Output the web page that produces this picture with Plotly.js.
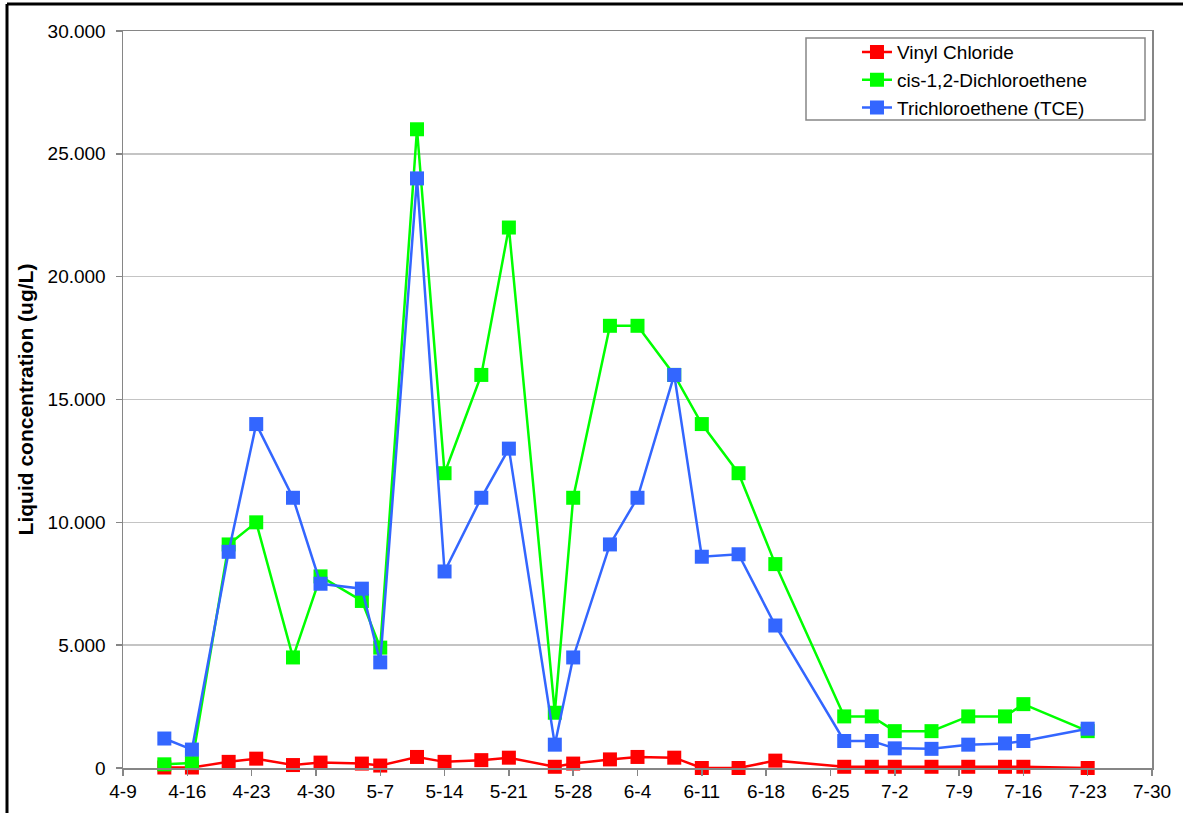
<!DOCTYPE html>
<html>
<head>
<meta charset="utf-8">
<script src="https://cdn.plot.ly/plotly-3.0.1.min.js"></script>
<style>
  body { margin: 0; background: #fff; }
  #plotArea { width: 1193px; height: 813px; }
</style>
</head>
<body>
<div id="plotArea"></div>
<script>
// Sample dates (month-day, some taken around midday)
var sampleDates = [
  "2010-04-13 12:00", "2010-04-16 12:00", "2010-04-20 12:00", "2010-04-23 12:00",
  "2010-04-27 12:00", "2010-04-30 12:00", "2010-05-05", "2010-05-07",
  "2010-05-11", "2010-05-14", "2010-05-18", "2010-05-21",
  "2010-05-26", "2010-05-28", "2010-06-01", "2010-06-04",
  "2010-06-08", "2010-06-11", "2010-06-15", "2010-06-19",
  "2010-06-26 12:00", "2010-06-29 12:00", "2010-07-02", "2010-07-06",
  "2010-07-10", "2010-07-14", "2010-07-16", "2010-07-23",
];

// Liquid concentration (ug/L)
var vinylChloride = [
  20, 20, 250, 380, 120, 220, 180, 100,
  450, 250, 320, 420,
  50, 180, 350, 450,
  420, 0, 0, 300,
  50, 50, 50, 50,
  50, 50, 50, 0,
];
var cisDCE = [
  150, 200, 9100, 10000, 4500, 7800, 6800, 4900,
  26000, 12000, 16000, 22000,
  2250, 11000, 18000, 18000,
  16000, 14000, 12000, 8300,
  2100, 2100, 1500, 1500,
  2100, 2100, 2600, 1500,
];
var tce = [
  1200, 750, 8800, 14000, 11000, 7500, 7300, 4300,
  24000, 8000, 11000, 13000,
  950, 4500, 9100, 11000,
  16000, 8600, 8700, 5800,
  1100, 1100, 800, 780,
  950, 1000, 1100, 1600,
];

var seriesNames = ["Vinyl Chloride", "cis-1,2-Dichloroethene", "Trichloroethene (TCE)"];
var seriesColors = ["#ff0000", "#00ff00", "#3366ff"];
var seriesValues = [vinylChloride, cisDCE, tce];

var data = [];
for (var i = 0; i < seriesNames.length; i++) {
  data.push({
    x: sampleDates,
    y: seriesValues[i],
    name: seriesNames[i],
    type: "scatter",
    mode: "lines+markers",
    cliponaxis: false,
    line: { color: seriesColors[i], width: 2.5 },
    marker: { symbol: "square", size: 14, color: seriesColors[i] },
  });
}

var font = "Liberation Sans, Arial, sans-serif";

var layout = {
  width: 1193,
  height: 813,
  margin: { l: 123, r: 41, t: 31, b: 45 },
  paper_bgcolor: "#fff",
  plot_bgcolor: "#fff",
  separators: ",.",
  font: { family: font, size: 19, color: "#000" },
  showlegend: true,
  legend: {
    x: 0.7133,
    y: 0.997,
    xanchor: "left",
    yanchor: "top",
    bgcolor: "rgba(0,0,0,0)",
    borderwidth: 0,
    font: { family: font, size: 19, color: "#000" },
  },
  xaxis: {
    type: "date",
    range: ["2010-04-09", "2010-07-30"],
    tick0: "2010-04-09",
    dtick: 7 * 86400000,
    tickformat: "%-m-%-d",
    showgrid: false,
    showline: true,
    mirror: true,
    linecolor: "#868686",
    linewidth: 1.5,
    ticks: "outside",
    ticklen: 6,
    tickcolor: "#868686",
    tickwidth: 1.5,
    zeroline: false,
    tickfont: { family: font, size: 19 },
  },
  yaxis: {
    range: [0, 30000],
    dtick: 5000,
    tickformat: ",d",
    showgrid: true,
    gridcolor: "#c4c4c4",
    gridwidth: 1.5,
    showline: true,
    mirror: true,
    linecolor: "#868686",
    linewidth: 1.5,
    ticks: "outside",
    ticklen: 6,
    tickcolor: "#868686",
    tickwidth: 1.5,
    ticklabelstandoff: 6,
    zeroline: false,
    tickfont: { family: font, size: 19 },
    title: {
      text: "<b>Liquid concentration (ug/L)</b>",
      font: { family: font, size: 21 },
      standoff: 8,
    },
  },
  shapes: [
    // legend box
    {
      type: "rect", xref: "paper", yref: "paper",
      x0: (806 - 123) / 1029, x1: (1145 - 123) / 1029,
      y0: (768 - 120) / 737, y1: (768 - 38) / 737,
      line: { color: "#868686", width: 1.5 },
    },
    // outer black frame (top and left)
    {
      type: "line", xref: "paper", yref: "paper",
      x0: (7 - 123) / 1029, x1: (1183 - 123) / 1029,
      y0: (768 - 4) / 737, y1: (768 - 4) / 737,
      line: { color: "#000", width: 3 },
    },
    {
      type: "line", xref: "paper", yref: "paper",
      x0: (7 - 123) / 1029, x1: (7 - 123) / 1029,
      y0: (768 - 4) / 737, y1: -0.1,
      line: { color: "#000", width: 3 },
    },
  ],
};

Plotly.newPlot("plotArea", data, layout, { displayModeBar: false, staticPlot: true });
</script>
</body>
</html>
